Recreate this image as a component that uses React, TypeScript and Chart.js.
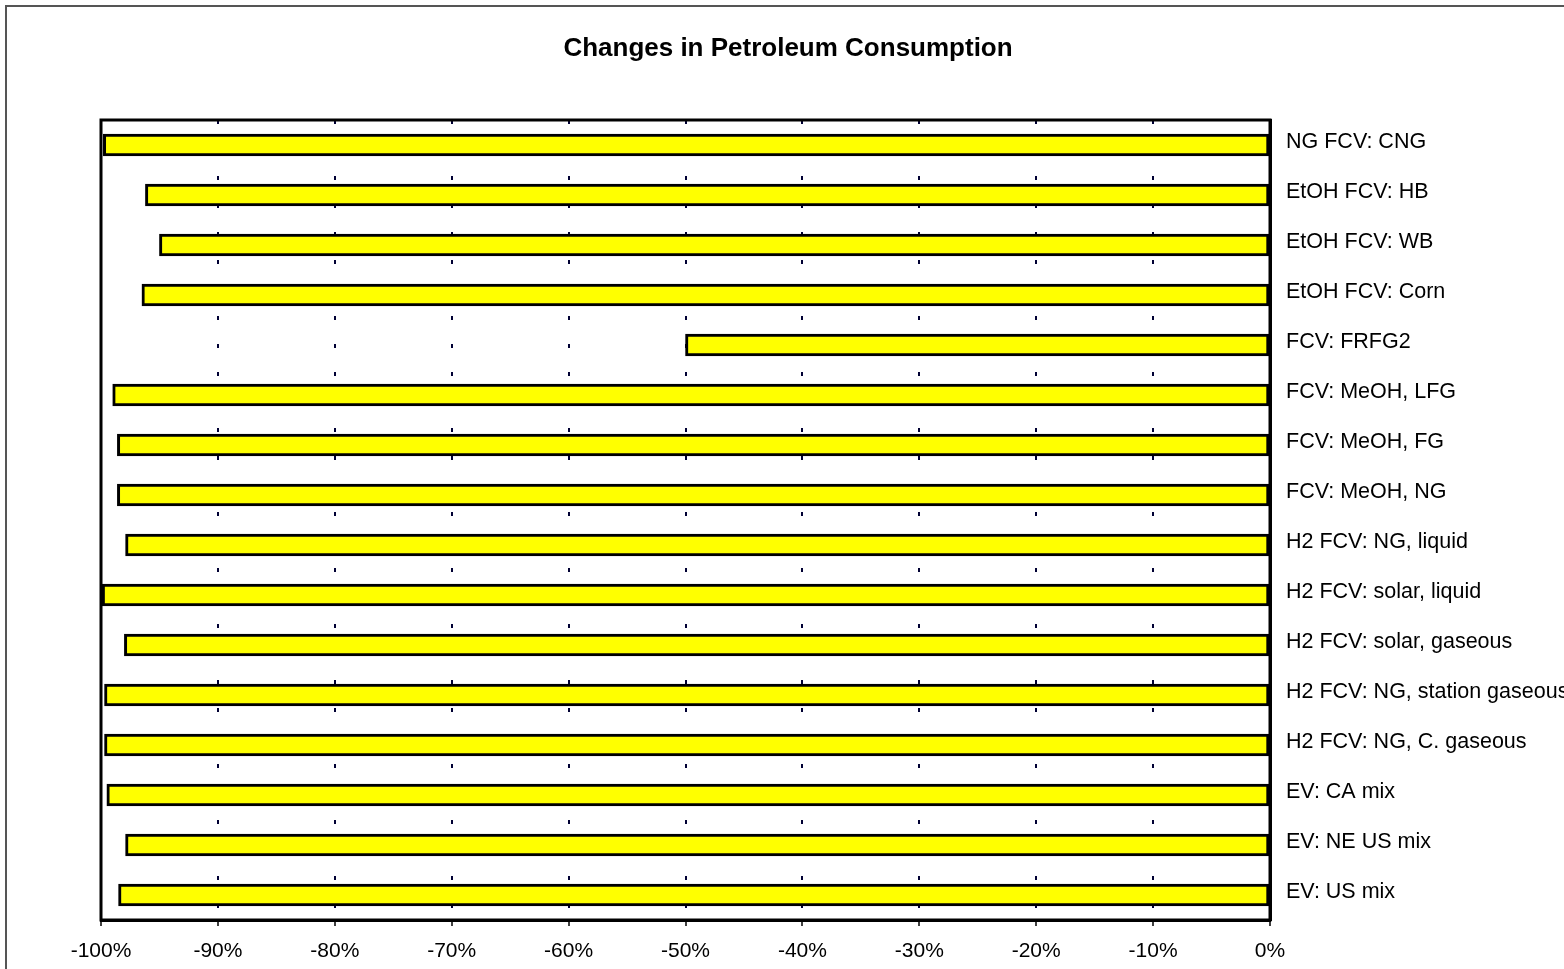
import React, { useEffect, useRef } from "react";
import { Chart, registerables } from "chart.js";

Chart.register(...registerables);

const categories = [
  "NG FCV: CNG",
  "EtOH FCV: HB",
  "EtOH FCV: WB",
  "EtOH FCV: Corn",
  "FCV: FRFG2",
  "FCV: MeOH, LFG",
  "FCV: MeOH, FG",
  "FCV: MeOH, NG",
  "H2 FCV: NG, liquid",
  "H2 FCV: solar, liquid",
  "H2 FCV: solar, gaseous",
  "H2 FCV: NG, station gaseous",
  "H2 FCV: NG, C. gaseous",
  "EV: CA mix",
  "EV: NE US mix",
  "EV: US mix",
];

const petroleumChange = [
  -99.8, -96.2, -95.0, -96.5, -50.0, -99.0, -98.6, -98.6, -97.9, -99.9, -98.0,
  -99.7, -99.7, -99.5, -97.9, -98.5,
];

const xTicks = [-100, -90, -80, -70, -60, -50, -40, -30, -20, -10, 0];

const titleText = "Changes in Petroleum Consumption";

const FONT = "Liberation Sans, Arial, sans-serif";

const framePlugin = {
  id: "framePlugin",
  beforeDraw(chart: any) {
    const ctx = chart.ctx;
    ctx.save();
    ctx.fillStyle = "#ffffff";
    ctx.fillRect(0, 0, chart.width, chart.height);
    ctx.strokeStyle = "#555555";
    ctx.lineWidth = 2;
    ctx.beginPath();
    ctx.moveTo(6, chart.height);
    ctx.lineTo(6, 6);
    ctx.lineTo(chart.width, 6);
    ctx.stroke();
    ctx.fillStyle = "#000000";
    ctx.font = `bold 26px ${FONT}`;
    ctx.textAlign = "center";
    ctx.textBaseline = "middle";
    ctx.fillText(titleText, 788, 49);
    ctx.restore();
  },
  afterDatasetsDraw(chart: any) {
    const { left, top, right, bottom } = chart.chartArea;
    const ctx = chart.ctx;
    ctx.save();
    ctx.strokeStyle = "#000000";
    ctx.lineWidth = 3;
    ctx.strokeRect(left, top, right - left, bottom - top);
    ctx.restore();
  },
};

export default function App() {
  const canvasRef = useRef<HTMLCanvasElement | null>(null);

  useEffect(() => {
    if (!canvasRef.current) return;
    const chart = new Chart(canvasRef.current, {
      type: "bar",
      data: {
        labels: categories,
        datasets: [
          {
            data: petroleumChange,
            backgroundColor: "#FFFF00",
            borderColor: "#000000",
            borderWidth: 3,
            borderSkipped: false,
            barThickness: 22,
          },
        ],
      },
      options: {
        indexAxis: "y",
        animation: false,
        responsive: false,
        maintainAspectRatio: false,
        layout: { padding: { left: 101, right: 0, top: 120, bottom: 0 } },
        plugins: {
          legend: { display: false },
          tooltip: { enabled: false },
          title: { display: false },
        },
        scales: {
          x: {
            type: "linear",
            min: -100,
            max: 0,
            afterBuildTicks(scale: any) {
              scale.ticks = xTicks.map((v) => ({ value: v }));
            },
            afterFit(scale: any) {
              scale.height = 49;
            },
            ticks: {
              callback: (v: any) => `${v}%`,
              color: "#000000",
              font: { family: FONT, size: 21 },
              padding: 13,
              maxRotation: 0,
              autoSkip: false,
            },
            grid: {
              color: "#000033",
              lineWidth: 2,
              drawTicks: true,
              tickLength: 6,
              tickColor: "#000000",
              tickWidth: 1.5,
              tickBorderDash: [],
            },
            border: { display: true, color: "#000000", width: 3, dash: [4, 24] },
          },
          y: {
            position: "right",
            afterFit(scale: any) {
              scale.width = 294;
            },
            ticks: {
              color: "#000000",
              font: { family: FONT, size: 21.5 },
              padding: 16,
              labelOffset: -3,
              crossAlign: "near",
              autoSkip: false,
            },
            grid: { display: false, drawTicks: false },
            border: { display: true, color: "#000000", width: 3 },
          },
        },
      },
      plugins: [framePlugin],
    } as any);
    return () => chart.destroy();
  }, []);

  return (
    <div style={{ position: "fixed", left: 0, top: 0, width: 1564, height: 969 }}>
      <canvas ref={canvasRef} width={1564} height={969} style={{ width: 1564, height: 969 }} />
    </div>
  );
}
